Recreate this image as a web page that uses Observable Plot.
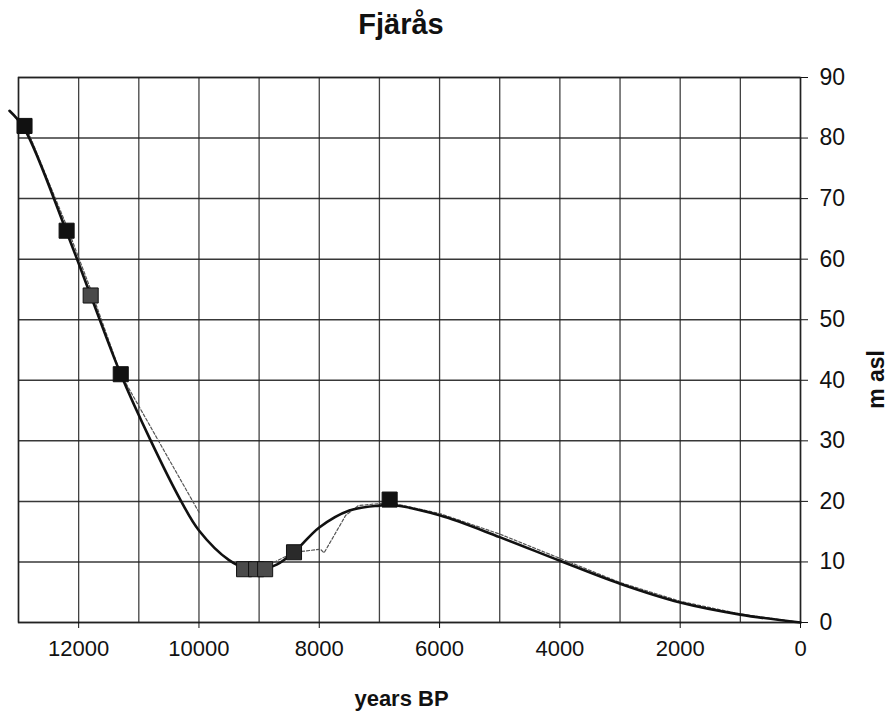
<!DOCTYPE html>
<html>
<head>
<meta charset="utf-8">
<script src="https://cdn.jsdelivr.net/npm/d3@7"></script>
<script src="https://cdn.jsdelivr.net/npm/@observablehq/plot@0.6"></script>
<style>
  html, body { margin: 0; padding: 0; background: #fff; }
  #title { width: 891px; height: 55px; box-sizing: border-box; padding-top: 8px; padding-right: 89px;
           line-height: 1; text-align: center; font: bold 29px "Liberation Sans", Arial, sans-serif; color: #111; }
</style>
</head>
<body>
<div id="title"></div>
<div id="chart"></div>
<script>
// ---- data ----
const titleText = "Fjärås";
const xLabel = "years BP";
const yLabel = "m asl";
const xTickLabels = [12000, 10000, 8000, 6000, 4000, 2000, 0];
const yTickLabels = [0, 10, 20, 30, 40, 50, 60, 70, 80, 90];

// observed shoreline points (years BP, m asl)
const pointYears  = [12900, 12200, 11800, 11300, 9250, 9050, 8900, 8420, 6830];
const pointValues = [82, 64.7, 54, 41, 8.8, 8.8, 8.8, 11.6, 20.3];
const pointTone   = ["dark", "dark", "gray", "dark", "gray", "gray", "gray", "mid", "dark"];

// fitted shoreline curve (thick)
const curveYears  = [13150, 12900, 12200, 11800, 11300, 10800, 10300, 10000, 9500, 9200, 9000, 8700, 8400, 8000, 7500, 7000, 6800, 6000, 5000, 4000, 3000, 2000, 1000, 0];
const curveValues = [84.5, 81.5, 64.5, 54, 41, 30, 20.1, 15.2, 10.3, 8.9, 8.8, 9.6, 11.8, 15.7, 18.5, 19.3, 19.4, 17.7, 14.1, 10.2, 6.4, 3.3, 1.3, 0];

// thin dotted connecting line (segments)
const thinYears   = [12900, 12200, 11800, 11300, 10000,   8900, 8420, 7980, 7920, 7560, 7350, 6830, 6000, 5000, 4000, 3000, 2000, 1000, 0];
const thinValues  = [82.5, 65.5, 55, 41, 18.2,           9.2, 11.6, 12.1, 11.5, 17.7, 19.3, 19.8, 18.0, 14.6, 10.6, 6.6, 3.5, 1.4, 0];
const thinSegment = ["a", "a", "a", "a", "a",            "b", "b", "b", "b", "b", "b", "b", "b", "b", "b", "b", "b", "b", "b"];

// ---- tables ----
document.getElementById("title").textContent = titleText;
const points = pointYears.map((x, i) => ({x, y: pointValues[i], tone: pointTone[i]}));
const curve = curveYears.map((x, i) => ({x, y: curveValues[i]}));
const thin = thinYears.map((x, i) => ({x, y: thinValues[i], seg: thinSegment[i]}));
const toneFill = {dark: "#111", mid: "#2a2a2a", gray: "#4a4a4a"};

const font = '"Liberation Sans", Arial, sans-serif';

const chart = Plot.plot({
  width: 891,
  height: 665,
  marginLeft: 18,
  marginRight: 91,
  marginTop: 22,
  marginBottom: 98,
  style: {fontFamily: font, color: "#111", background: "#fff"},
  x: {domain: [13000, 0], label: null},
  y: {domain: [0, 90], label: null},
  marks: [
    Plot.gridX(d3.range(0, 13001, 1000), {stroke: "#222", strokeOpacity: 0.85, strokeWidth: 1.3}),
    Plot.gridY(yTickLabels, {stroke: "#222", strokeOpacity: 0.9, strokeWidth: 1.5}),
    Plot.frame({stroke: "#222", strokeWidth: 1.5}),
    Plot.axisX(xTickLabels, {tickSize: 6, tickPadding: 12, fontSize: 22, tickFormat: d => String(d), label: null}),
    Plot.axisY(yTickLabels, {anchor: "right", tickSize: 7, tickPadding: 12, fontSize: 23, label: null}),
    Plot.line(thin, {x: "x", y: "y", z: "seg", stroke: "#555", strokeWidth: 1.2, strokeDasharray: "3,2"}),
    Plot.line(curve, {x: "x", y: "y", curve: "catmull-rom", stroke: "#111", strokeWidth: 2.6}),
    Plot.dot(points, {x: "x", y: "y", symbol: "square", r: 8.5, fill: d => toneFill[d.tone], stroke: "#111", strokeWidth: 1}),
    Plot.text([xLabel], {frameAnchor: "bottom", dy: 83, dx: -8, fontSize: 22, fontWeight: "bold", fill: "#111"}),
    Plot.text([yLabel], {frameAnchor: "right", dx: 76, dy: 0, rotate: -90, fontSize: 23, fontWeight: "bold", fill: "#111"})
  ]
});
document.getElementById("chart").append(chart);
</script>
</body>
</html>
